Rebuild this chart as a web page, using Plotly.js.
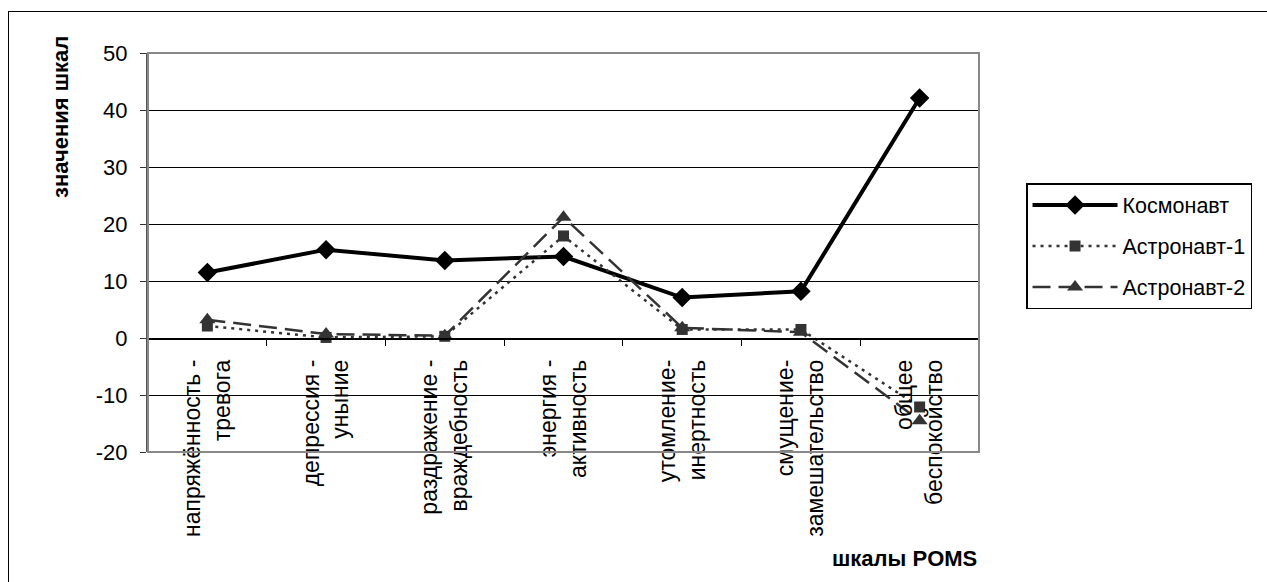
<!DOCTYPE html>
<html>
<head>
<meta charset="utf-8">
<script src="https://cdn.plot.ly/plotly-3.0.1.min.js"></script>
<style>
  html, body { margin: 0; padding: 0; background: #fff; }
  #chart { position: absolute; left: 0; top: 0; width: 1267px; height: 582px; }
  #frame { position: absolute; left: 8px; top: 11px; width: 1300px; height: 600px;
           border: 1.5px solid #000; pointer-events: none; box-sizing: border-box; }
</style>
</head>
<body>
<div id="chart"></div>
<div id="frame"></div>
<script>
const categories = [
  "напряжённость -<br>тревога",
  "депрессия -<br>уныние",
  "раздражение -<br>враждебность",
  "энергия -<br>активность",
  "утомление-<br>инертность",
  "смущение-<br>замешательство",
  "общее<br>беспокойство"
];
const seriesNames = ["Космонавт", "Астронавт-1", "Астронавт-2"];
const kosmonavt = [11.5, 15.5, 13.6, 14.3, 7.1, 8.2, 42.1];
const astronavt1 = [2.1, 0.1, 0.3, 17.9, 1.5, 1.5, -12.1];
const astronavt2 = [3.2, 0.7, 0.4, 21.2, 1.8, 1.0, -14.5];
const yTickVals = [-20, -10, 0, 10, 20, 30, 40, 50];
const yTickText = ["-20", "-10", "0", "10", "20", "30", "40", "50"];
const yTitle = "значения шкал";
const xTitle = "шкалы POMS";

const FONT = "Arial, 'Liberation Sans', sans-serif";

const traces = [
  {
    x: categories, y: kosmonavt, name: seriesNames[0], type: "scatter", mode: "lines+markers",
    line: { color: "#000000", width: 4 },
    marker: { symbol: "diamond", size: 15, color: "#000000" },
    legendgroup: "a"
  },
  {
    x: categories, y: astronavt1, name: seriesNames[1], type: "scatter", mode: "lines+markers",
    line: { color: "#333333", width: 2.5, dash: "3px,5px" },
    marker: { symbol: "square", size: 11, color: "#333333" },
    legendgroup: "b"
  },
  {
    x: categories, y: astronavt2, name: seriesNames[2], type: "scatter", mode: "lines+markers",
    line: { color: "#333333", width: 2.5, dash: "18px,8px" },
    marker: { symbol: "triangle-up", size: 14, color: "#333333" },
    legendgroup: "c"
  }
];

const layout = {
  width: 1267, height: 582,
  margin: { l: 148, r: 288, t: 53, b: 130 },
  paper_bgcolor: "#ffffff", plot_bgcolor: "#ffffff",
  font: { family: FONT, size: 22, color: "#000" },
  showlegend: true,
  legend: {
    x: 1.0566, y: 0.674, xanchor: "left", yanchor: "top",
    bordercolor: "#000", borderwidth: 1.5, bgcolor: "#fff",
    font: { family: FONT, size: 21.5, color: "#000" },
    traceorder: "grouped", tracegroupgap: 10,
    itemwidth: 85
  },
  xaxis: {
    type: "category",
    anchor: "free", position: 20 / 70,
    range: [-0.5, 6.5],
    showgrid: false, zeroline: false,
    showline: true, linecolor: "#000", linewidth: 1.5,
    ticks: "outside", tickson: "boundaries", ticklen: 6, tickcolor: "#000", tickwidth: 1,
    tickangle: -90, ticklabelstandoff: 11,
    tickfont: { family: FONT, size: 23, color: "#000" },
    fixedrange: true
  },
  yaxis: {
    range: [-20, 50], tickvals: yTickVals, ticktext: yTickText,
    showgrid: true, gridcolor: "#000", gridwidth: 1,
    zeroline: false,
    showline: true, linecolor: "#555", linewidth: 2,
    ticks: "outside", ticklen: 6, tickcolor: "#333", tickwidth: 1,
    ticklabelstandoff: 8,
    tickfont: { family: FONT, size: 22, color: "#000" },
    fixedrange: true
  },
  shapes: [
    { type: "rect", xref: "paper", yref: "paper", x0: 0, x1: 1, y0: 0, y1: 1,
      line: { color: "#888", width: 2 }, layer: "above" }
  ],
  annotations: [
    { text: "<b>" + yTitle + "</b>", xref: "paper", yref: "paper",
      x: -0.1047, y: 0.8396, xanchor: "center", yanchor: "middle",
      textangle: -90, showarrow: false, font: { family: FONT, size: 22, color: "#000" } },
    { text: "<b>" + xTitle + "</b>", xref: "paper", yref: "paper",
      x: 1.0, y: -0.2657, xanchor: "right", yanchor: "middle",
      showarrow: false, font: { family: FONT, size: 22, color: "#000" } }
  ]
};

Plotly.newPlot("chart", traces, layout, { displayModeBar: false, staticPlot: true });
</script>
</body>
</html>
